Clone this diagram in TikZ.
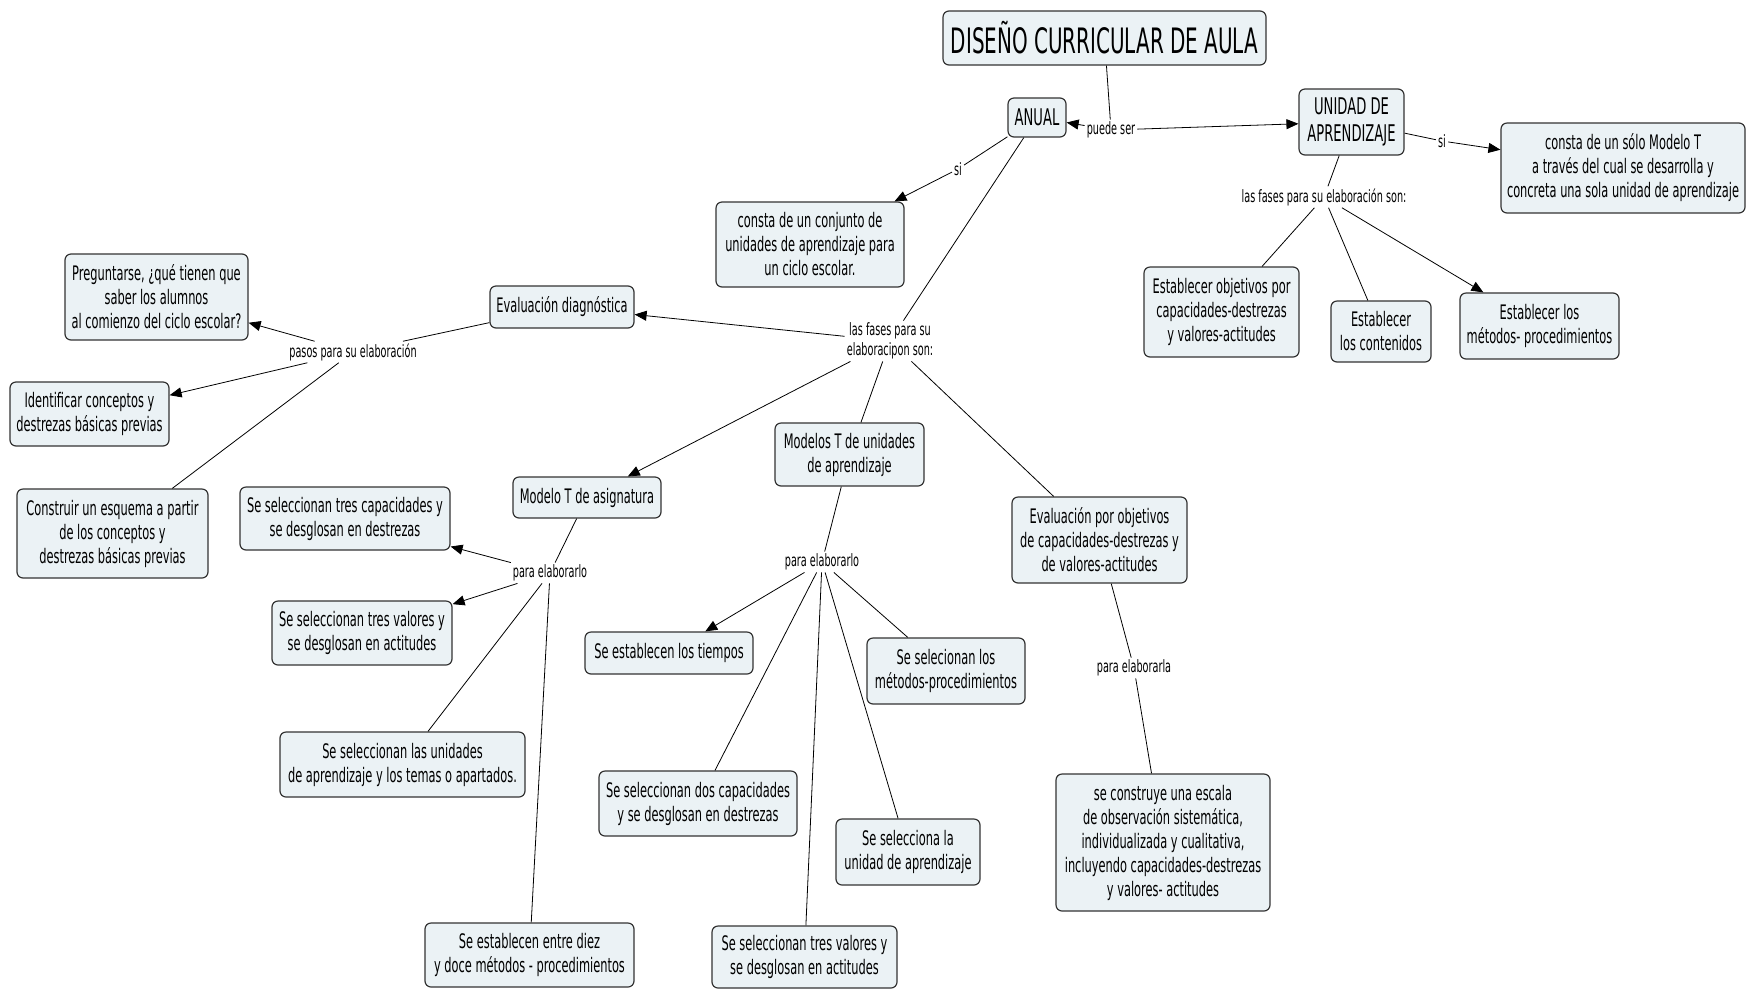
\documentclass[tikz,border=0pt]{standalone}
\usepackage{fontspec}
\setmainfont{DejaVu Sans}[FakeStretch=0.57]
\usetikzlibrary{arrows.meta}
\definecolor{boxfill}{HTML}{EBF2F5}
\definecolor{boxline}{HTML}{333333}
\tikzset{
 concept/.style={draw=boxline, line width=1.2pt, rounded corners=6pt, fill=boxfill, align=center, font=\fontsize{20}{24}\selectfont, inner sep=2pt},
 bigconcept/.style={concept, font=\fontsize{23}{27}\selectfont},
 linkph/.style={align=center, font=\fontsize{17}{20}\selectfont, inner sep=2pt},
 conn/.style={line width=0.8pt, black},
 arr/.style={conn, -{Triangle[width=10pt,length=12pt]}},
}
\begin{document}
\begin{tikzpicture}[x=1pt,y=-1pt]
\useasboundingbox (0,0) rectangle (1747,989);
% concepts
\node[concept, minimum width=323pt, minimum height=54pt, font=\fontsize{35}{40}\selectfont] (title) at (1104.5,38) {DISEÑO CURRICULAR DE AULA};
\node[bigconcept, minimum width=58pt, minimum height=39pt] (anual) at (1037,117.5) {ANUAL};
\node[bigconcept, minimum width=105pt, minimum height=66pt] (unidad) at (1351.5,122) {UNIDAD DE\\APRENDIZAJE};
\node[concept, minimum width=244pt, minimum height=90pt] (solo) at (1623,168) {consta de un sólo Modelo T\\a través del cual se desarrolla y\\concreta una sola unidad de aprendizaje};
\node[concept, minimum width=188pt, minimum height=85pt] (conjunto) at (810,244.5) {consta de un conjunto de\\unidades de aprendizaje para\\un ciclo escolar.};
\node[concept, minimum width=144pt, minimum height=42pt] (evaldiag) at (562,307) {Evaluación diagnóstica};
\node[concept, minimum width=183pt, minimum height=86pt] (pregunta) at (156.5,297) {Preguntarse, ¿qué tienen que\\saber los alumnos\\al comienzo del ciclo escolar?};
\node[concept, minimum width=159pt, minimum height=64pt] (identificar) at (89.5,414) {Identificar conceptos y\\destrezas básicas previas};
\node[concept, minimum width=191pt, minimum height=89pt] (construir) at (112.5,533.5) {Construir un esquema a partir\\de los conceptos y\\destrezas básicas previas};
\node[concept, minimum width=148pt, minimum height=41pt] (modasig) at (587,497.5) {Modelo T de asignatura};
\node[concept, minimum width=149pt, minimum height=63pt] (modunid) at (849.5,454.5) {Modelos T de unidades\\de aprendizaje};
\node[concept, minimum width=175pt, minimum height=86pt] (evalobj) at (1099.5,540) {Evaluación por objetivos\\de capacidades-destrezas y\\de valores-actitudes};
\node[concept, minimum width=155pt, minimum height=90pt] (objetivos) at (1221.5,312) {Establecer objetivos por\\capacidades-destrezas\\y valores-actitudes};
\node[concept, minimum width=100pt, minimum height=61pt] (contenidos) at (1381,331.5) {Establecer\\los contenidos};
\node[concept, minimum width=159pt, minimum height=66pt] (metodosU) at (1539.5,326) {Establecer los\\métodos- procedimientos};
\node[concept, minimum width=210pt, minimum height=63pt] (trescap) at (345,518.5) {Se seleccionan tres capacidades y\\se desglosan en destrezas};
\node[concept, minimum width=180pt, minimum height=64pt] (tresvalL) at (362,633) {Se seleccionan tres valores y\\se desglosan en actitudes};
\node[concept, minimum width=245pt, minimum height=65pt] (lasunid) at (402.5,764.5) {Se seleccionan las unidades\\de aprendizaje y los temas o apartados.};
\node[concept, minimum width=209pt, minimum height=64pt] (diez) at (529.5,955) {Se establecen entre diez\\y doce métodos - procedimientos};
\node[concept, minimum width=168pt, minimum height=42pt] (tiempos) at (669,653) {Se establecen los tiempos};
\node[concept, minimum width=158pt, minimum height=66pt] (metproc) at (946,671) {Se selecionan los\\métodos-procedimientos};
\node[concept, minimum width=198pt, minimum height=65pt] (doscap) at (698,803.5) {Se seleccionan dos capacidades\\y se desglosan en destrezas};
\node[concept, minimum width=144pt, minimum height=66pt] (launidad) at (908,852) {Se selecciona la\\unidad de aprendizaje};
\node[concept, minimum width=185pt, minimum height=62pt] (tresvalB) at (804.5,957) {Se seleccionan tres valores y\\se desglosan en actitudes};
\node[concept, minimum width=214pt, minimum height=137pt] (escala) at (1163,842.5) {se construye una escala\\de observación sistemática,\\individualizada y cualitativa,\\incluyendo capacidades-destrezas\\y valores- actitudes};
% linking phrases
\node[linkph] (puede) at (1111,130) {puede ser};
\node[linkph] (si1) at (958,169) {si};
\node[linkph] (si2) at (1442,141) {si};
\node[linkph] (fasesU) at (1324,197) {las fases para su elaboración son:};
\node[linkph] (fasesA) at (890,341) {las fases para su\\elaboracipon son:};
\node[linkph] (pasos) at (353,352) {pasos para su elaboración};
\node[linkph] (para1) at (550,573) {para elaborarlo};
\node[linkph] (para2) at (822,562) {para elaborarlo};
\node[linkph] (para3) at (1134,668) {para elaborarla};
% connectors
\draw[conn] (title) -- (puede);
\draw[arr] (puede) -- (anual);
\draw[arr] (puede) -- (unidad);
\draw[conn] (anual) -- (si1);
\draw[arr] (si1) -- (conjunto);
\draw[conn] (anual) -- (fasesA);
\draw[arr] (fasesA) -- (evaldiag);
\draw[arr] (fasesA) -- (modasig);
\draw[conn] (fasesA) -- (modunid);
\draw[conn] (fasesA) -- (evalobj);
\draw[conn] (evaldiag) -- (pasos);
\draw[arr] (pasos) -- (pregunta);
\draw[arr] (pasos) -- (identificar);
\draw[conn] (pasos) -- (construir);
\draw[conn] (modasig) -- (para1);
\draw[arr] (para1) -- (trescap);
\draw[arr] (para1) -- (tresvalL);
\draw[conn] (para1) -- (lasunid);
\draw[conn] (para1) -- (diez);
\draw[conn] (modunid) -- (para2);
\draw[arr] (para2) -- (tiempos);
\draw[conn] (para2) -- (metproc);
\draw[conn] (para2) -- (doscap);
\draw[conn] (para2) -- (launidad);
\draw[conn] (para2) -- (tresvalB);
\draw[conn] (evalobj) -- (para3);
\draw[conn] (para3) -- (escala);
\draw[conn] (unidad) -- (si2);
\draw[arr] (si2) -- (solo);
\draw[conn] (unidad) -- (fasesU);
\draw[conn] (fasesU) -- (objetivos);
\draw[conn] (fasesU) -- (contenidos);
\draw[arr] (fasesU) -- (metodosU);
\end{tikzpicture}
\end{document}
